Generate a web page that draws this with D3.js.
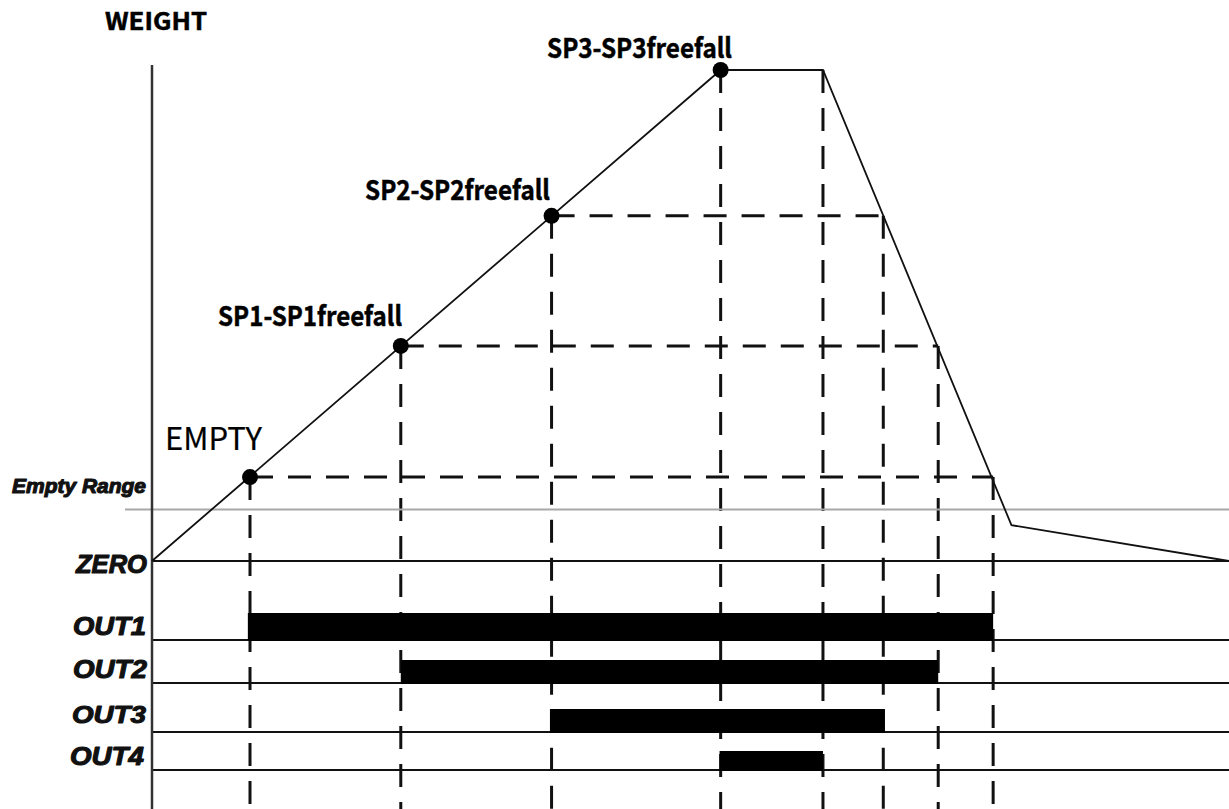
<!DOCTYPE html>
<html><head><meta charset="utf-8">
<script src="https://cdn.jsdelivr.net/npm/d3@7"></script>
<style>html,body{margin:0;padding:0;background:#fff;overflow:hidden}</style>
</head><body><svg id="chart" width="1229" height="809"></svg>
<script>
// ---------------- data ----------------
const axisTitle = "WEIGHT";
// weight curve (time in % of cycle, weight in % of SP3)
const curveTimes  = [0, 52.8, 62.3, 79.8, 100];
const curveValues = [0, 100, 100, 7.3, 0];
// set points
const setpointNames  = ["EMPTY", "SP1-SP1freefall", "SP2-SP2freefall", "SP3-SP3freefall"];
const setpointLevels = [17.1, 43.8, 70.3, 100];
const riseTimes      = [9.1, 23.1, 37.1, 52.8];   // reached while filling
const fallTimes      = [78.1, 73.0, 67.9, 62.3];  // crossed while discharging
const emptyRangeLevel = 10.5;
const zeroLevel = 0;
const levelLabels = ["Empty Range", "ZERO"];
// outputs
const outputNames    = ["OUT1", "OUT2", "OUT3", "OUT4"];
const outputOnTimes  = [8.9, 23.1, 36.95, 52.7];
const outputOffTimes = [78.1, 73.0, 68.05, 62.3];

// ---------------- layout ----------------
const W = 1229, H = 809;
const svg = d3.select("#chart");
const x = d3.scaleLinear().domain([0, 100]).range([152, 1229]);
const y = d3.scaleLinear().domain([0, 100]).range([561, 70]);
const rowBase = d3.scaleOrdinal().domain(outputNames).range([640, 683, 732, 770]);
const rowHeight = d3.scaleOrdinal().domain(outputNames).range([27, 23, 23, 19]);

const sansKR = "'Noto Sans CJK KR','Noto Sans',sans-serif";
const arialBI = "'Liberation Sans',Arial,sans-serif";

// dashed guides
const dash = "23,15";
const guides = svg.append("g").attr("stroke", "#111").attr("stroke-width", 3)
  .attr("stroke-dasharray", dash).attr("fill", "none");
setpointLevels.forEach((lv, i) => {
  if (i < 3) {
    guides.append("line").attr("x1", x(riseTimes[i])).attr("x2", x(fallTimes[i]))
      .attr("y1", y(lv)).attr("y2", y(lv));
  }
  guides.append("line").attr("x1", x(riseTimes[i])).attr("x2", x(riseTimes[i]))
    .attr("y1", y(lv)).attr("y2", H);
  guides.append("line").attr("x1", x(fallTimes[i])).attr("x2", x(fallTimes[i]))
    .attr("y1", y(lv)).attr("y2", H);
});

// empty range line
svg.append("line").attr("x1", 125).attr("x2", W)
  .attr("y1", y(emptyRangeLevel)).attr("y2", y(emptyRangeLevel))
  .attr("stroke", "#a8a8a8").attr("stroke-width", 2);

// zero line
svg.append("line").attr("x1", x(0)).attr("x2", W)
  .attr("y1", y(zeroLevel)).attr("y2", y(zeroLevel))
  .attr("stroke", "#111").attr("stroke-width", 2);

// output baselines + bars
outputNames.forEach((n, i) => {
  svg.append("line").attr("x1", x(0)).attr("x2", W)
    .attr("y1", rowBase(n)).attr("y2", rowBase(n))
    .attr("stroke", "#111").attr("stroke-width", 2);
  svg.append("rect").attr("x", x(outputOnTimes[i]))
    .attr("width", x(outputOffTimes[i]) - x(outputOnTimes[i]))
    .attr("y", rowBase(n) - rowHeight(n)).attr("height", rowHeight(n) + 1)
    .attr("fill", "#000");
});

// y axis line
svg.append("line").attr("x1", x(0)).attr("x2", x(0)).attr("y1", 65).attr("y2", H)
  .attr("stroke", "#333").attr("stroke-width", 2.5);

// weight curve
const pts = curveTimes.map((t, i) => [t, curveValues[i]]);
svg.append("path").datum(pts)
  .attr("d", d3.line().x(d => x(d[0])).y(d => y(d[1])))
  .attr("fill", "none").attr("stroke", "#111").attr("stroke-width", 1.8);

// set point dots
svg.append("g").selectAll("circle").data(setpointLevels).join("circle")
  .attr("cx", (d, i) => x(riseTimes[i])).attr("cy", d => y(d)).attr("r", 8).attr("fill", "#000");

// labels
const topLabels = [
  {t: axisTitle, x: 105, y: 30, w: 102, fs: 24, fw: 700, sw: 0.5},
  {t: setpointNames[0], x: 165, y: 450, w: 97, fs: 31, fw: 400, sw: 0.2},
  {t: setpointNames[1], x: 218, y: 326, w: 184, fs: 27, fw: 700, sw: 0.5},
  {t: setpointNames[2], x: 365, y: 200, w: 185, fs: 27, fw: 700, sw: 0.5},
  {t: setpointNames[3], x: 547, y: 58, w: 185, fs: 27, fw: 700, sw: 0.5}
];
svg.append("g").selectAll("text").data(topLabels).join("text")
  .attr("x", d => d.x).attr("y", d => d.y).text(d => d.t)
  .attr("font-family", sansKR).attr("font-size", d => d.fs).attr("font-weight", d => d.fw)
  .attr("textLength", d => d.w).attr("lengthAdjust", "spacingAndGlyphs")
  .attr("fill", "#000").attr("stroke", "#000").attr("stroke-width", d => d.sw);

const leftLabels = [
  {t: levelLabels[0], x: 12, y: 493, w: 134, fs: 20},
  {t: levelLabels[1], x: 76, y: 573, w: 71, fs: 26},
  {t: outputNames[0], x: 73, y: 635, w: 73, fs: 25},
  {t: outputNames[1], x: 73, y: 678, w: 74, fs: 25},
  {t: outputNames[2], x: 72, y: 723, w: 74, fs: 24},
  {t: outputNames[3], x: 70, y: 765, w: 74, fs: 25}
];
svg.append("g").selectAll("text").data(leftLabels).join("text")
  .attr("x", d => d.x).attr("y", d => d.y).text(d => d.t)
  .attr("font-family", arialBI).attr("font-size", d => d.fs)
  .attr("font-weight", 700).attr("font-style", "italic")
  .attr("textLength", d => d.w).attr("lengthAdjust", "spacingAndGlyphs")
  .attr("fill", "#111").attr("stroke", "#111").attr("stroke-width", 1.1)
  .attr("stroke-linejoin", "round");
</script></body></html>
